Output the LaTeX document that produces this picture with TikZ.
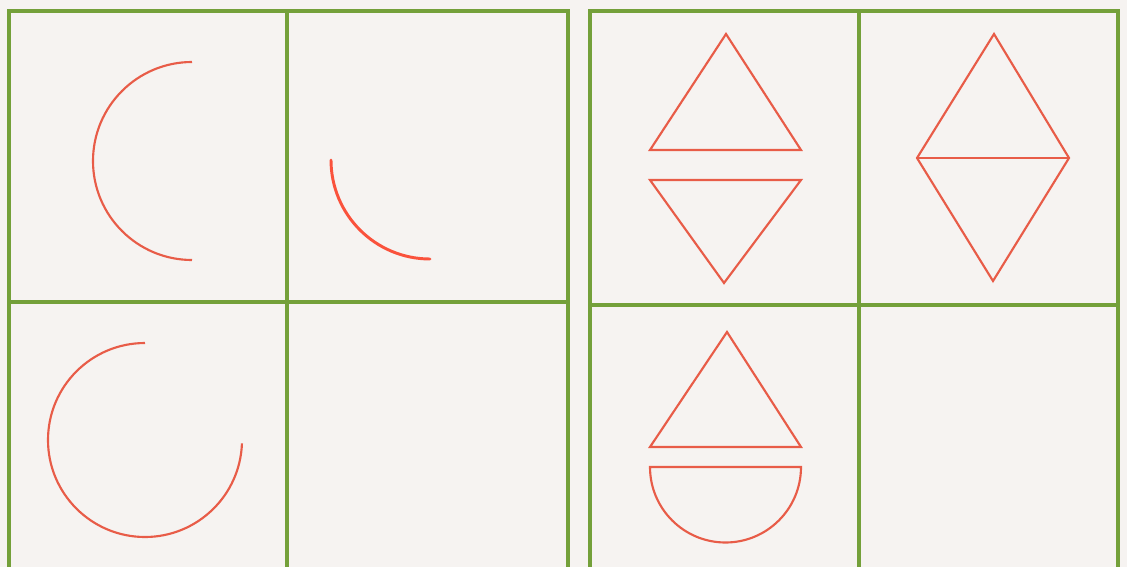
\documentclass[tikz,border=0pt]{standalone}
\definecolor{gridgreen}{RGB}{116,160,58}
\definecolor{paper}{RGB}{246,243,241}
\definecolor{shapered}{RGB}{232,92,72}
\definecolor{brightred}{RGB}{250,82,60}
\tikzset{
  gridline/.style={draw=gridgreen, line width=3pt},
  shapeline/.style={draw=shapered, line width=1.6pt, line join=miter},
  brightline/.style={draw=brightred, line width=2.2pt, line cap=round}
}
\begin{document}
\begin{tikzpicture}[x=0.75pt,y=-0.75pt]
\useasboundingbox (0,0) rectangle (1127,567);
\fill[paper] (0,0) rectangle (1127,567);
% left grid
\draw[gridline] (9,575) -- (9,11) -- (568,11) -- (568,575);
\draw[gridline] (287,11) -- (287,575);
\draw[gridline] (9,302) -- (568,302);
% right grid
\draw[gridline] (590,575) -- (590,11) -- (1118,11) -- (1118,575);
\draw[gridline] (859,11) -- (859,575);
\draw[gridline] (590,305) -- (1118,305);
% left grid shapes (y axis points down: angles are mirrored)
\draw[shapeline] (192,62) arc[start angle=-90, end angle=-270, radius=99];
\draw[brightline] (331,160) arc[start angle=-180, end angle=-270, radius=99];
\draw[shapeline] (145,343) arc[start angle=-90, end angle=-358, radius=97];
% right grid shapes
\draw[shapeline] (726,34) -- (650,150) -- (801,150) -- cycle;
\draw[shapeline] (650,180) -- (801,180) -- (724,283) -- cycle;
\draw[shapeline] (994,34) -- (1069,158) -- (993,281) -- (917,158) -- cycle;
\draw[shapeline] (917,158) -- (1069,158);
\draw[shapeline] (727,332) -- (650,447) -- (801,447) -- cycle;
\draw[shapeline] (650,467) -- (801,467) arc[start angle=0, end angle=180, radius=75.5] -- cycle;
\end{tikzpicture}
\end{document}
